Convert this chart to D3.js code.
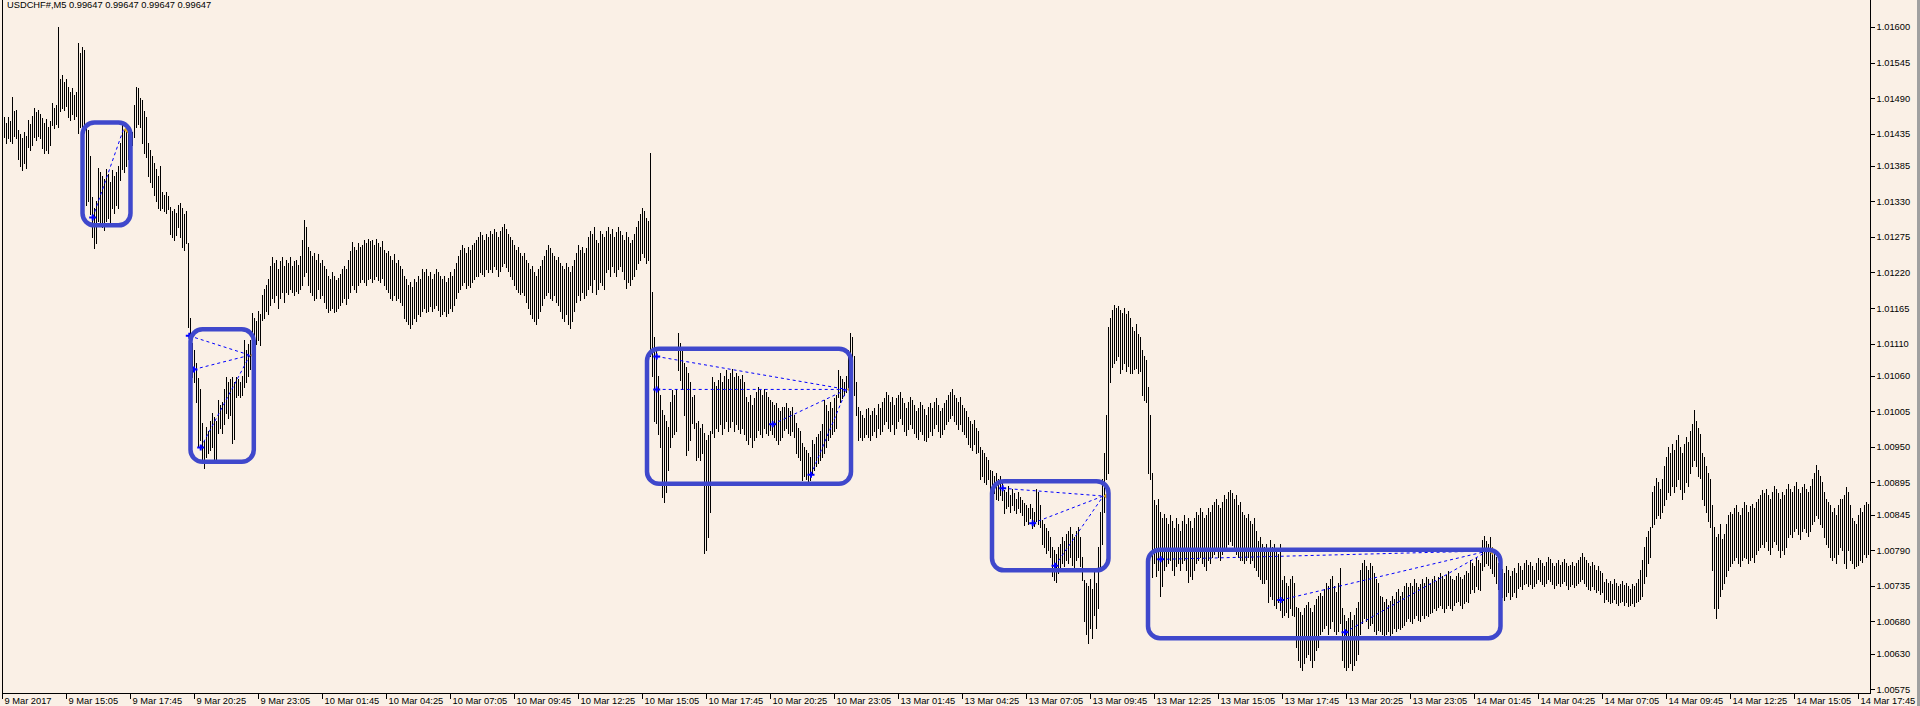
<!DOCTYPE html>
<html><head><meta charset="utf-8">
<script src="https://cdn.jsdelivr.net/npm/d3@7"></script>
<style>
html,body{margin:0;padding:0;background:#faf0e6;overflow:hidden}
svg{display:block}
text{font-family:"Liberation Sans",Arial,sans-serif;font-size:9.3px;fill:#000}
</style></head><body>
<svg id="chart" width="1920" height="706"></svg>
<script>
// ---- data (prices stored in points above 1.00000, 1 point = 0.00001) ----
const symbolTitle = "USDCHF#,M5  0.99647 0.99647 0.99647 0.99647";
const barHigh = [
1458,1461,1452,1460,1455,1492,1470,1472,1440,1435,
1428,1438,1432,1456,1450,1462,1475,1468,1472,1465,
1459,1452,1458,1445,1455,1482,1475,1480,1600,1520,
1526,1515,1520,1507,1500,1505,1495,1500,1575,1560,
1569,1565,1445,1440,1400,1337,1320,1330,1382,1375,
1370,1365,1380,1372,1360,1379,1370,1375,1385,1420,
1451,1440,1445,1440,1441,1438,1480,1507,1505,1490,
1487,1470,1460,1420,1410,1400,1389,1380,1370,1385,
1345,1340,1345,1338,1321,1315,1318,1312,1325,1328,
1320,1310,1315,1265,1150,1111,1100,1080,1057,1040,
987,960,981,975,990,1002,996,990,1023,1015,
1020,1040,1058,1050,1055,1058,1050,1058,1055,1050,
1060,1115,1100,1110,1115,1157,1150,1145,1160,1155,
1185,1195,1200,1210,1230,1244,1235,1240,1225,1238,
1244,1230,1240,1235,1244,1230,1238,1240,1232,1245,
1270,1301,1290,1260,1253,1245,1250,1240,1248,1235,
1240,1230,1225,1215,1210,1220,1215,1208,1212,1218,
1225,1230,1225,1240,1253,1267,1260,1255,1265,1260,
1262,1270,1265,1272,1268,1270,1262,1272,1265,1260,
1268,1255,1250,1253,1245,1240,1248,1235,1240,1230,
1225,1215,1210,1200,1205,1198,1210,1205,1215,1210,
1225,1220,1225,1215,1220,1210,1218,1225,1220,1215,
1210,1215,1205,1212,1220,1215,1225,1235,1245,1255,
1263,1258,1250,1260,1255,1262,1265,1270,1275,1282,
1278,1270,1280,1275,1285,1280,1288,1282,1275,1285,
1290,1295,1288,1280,1275,1270,1263,1255,1260,1250,
1245,1250,1240,1234,1225,1230,1220,1215,1225,1230,
1240,1245,1255,1263,1258,1250,1245,1240,1244,1235,
1230,1225,1235,1228,1220,1230,1240,1250,1263,1255,
1260,1250,1258,1275,1285,1280,1291,1270,1265,1285,
1280,1275,1285,1291,1280,1288,1275,1282,1290,1285,
1278,1270,1282,1275,1265,1270,1280,1290,1300,1310,
1320,1315,1305,1300,1405,1190,1120,1100,1060,1030,
1007,1000,990,981,1020,1038,1030,1040,1126,1111,
1100,1080,1074,1065,1050,1027,1030,987,990,980,
985,972,960,968,975,1058,1050,1045,1054,1064,
1050,1060,1069,1055,1064,1070,1058,1065,1060,1055,
1062,1050,1027,1020,1030,1015,1025,1035,1043,1038,
1030,1040,1035,1028,1023,1020,1015,1018,1010,1005,
1012,1012,1018,1010,1005,1012,1000,987,980,975,
956,950,945,940,935,961,955,965,970,975,
985,1023,1015,1005,1020,1010,1025,1030,1069,1060,
1055,1050,1060,1100,1126,1120,1090,1050,1012,1005,
1000,995,1008,1010,1000,1005,1010,1000,1016,1010,
1020,1025,1035,1030,1020,1028,1015,1025,1030,1035,
1025,1018,1010,1020,1028,1022,1015,1005,1010,1020,
1015,1008,1000,1012,1018,1010,1020,1026,1015,1005,
1010,1018,1022,1030,1035,1039,1030,1025,1020,1028,
1015,1010,1005,997,990,985,992,980,975,950,
945,940,935,930,914,912,905,910,900,905,
895,883,880,890,875,885,878,870,880,872,
868,863,860,855,862,855,850,885,880,860,
837,830,825,820,810,795,790,785,795,800,
811,805,815,820,826,815,810,820,826,811,
780,744,740,735,745,730,760,740,795,850,
900,941,1000,1136,1150,1162,1170,1165,1168,1162,
1158,1165,1155,1160,1150,1136,1130,1140,1125,1120,
1100,1090,1085,1043,1000,910,868,860,870,850,
840,846,840,830,845,835,825,840,830,820,
835,845,830,840,835,825,840,850,845,855,
850,840,845,855,850,860,865,870,860,855,
865,875,870,880,884,878,870,875,860,865,
850,845,840,846,835,830,840,820,805,810,
800,795,800,790,806,795,800,790,785,800,
744,750,740,735,745,750,740,702,700,695,
690,700,705,710,700,695,705,715,720,724,
720,730,740,735,745,750,735,725,740,763,
700,690,680,685,695,682,690,700,710,760,
770,775,765,759,770,765,755,745,740,720,
718,710,715,705,712,720,715,725,730,720,
725,735,740,733,740,735,745,740,733,738,
745,740,748,745,739,745,750,742,748,755,
750,745,752,758,750,745,744,750,755,748,
745,752,758,755,775,770,765,780,775,770,
806,812,805,800,810,795,790,780,770,775,
761,755,765,760,750,758,762,755,770,765,
760,770,775,768,772,765,760,770,778,775,
770,765,772,780,776,770,765,770,775,768,
772,776,770,765,768,772,766,770,775,780,
786,780,775,770,765,772,768,760,765,758,
755,741,745,740,742,738,745,740,735,738,
742,736,740,735,730,738,734,740,745,760,
775,795,810,820,826,880,890,902,895,885,
900,920,935,950,940,955,945,960,968,950,
940,955,965,958,975,985,1007,990,980,970,
941,935,920,910,900,860,826,810,815,830,
807,815,830,845,850,846,855,860,850,845,
855,865,860,850,858,862,855,865,870,875,
883,878,885,875,870,880,890,885,878,870,
880,875,885,893,885,880,890,895,885,878,
888,893,885,880,890,900,910,922,915,905,
895,880,870,865,860,850,855,845,860,870,
870,875,888,880,860,840,835,830,845,855,
850,860,865,862];
const barLow = [
1425,1430,1420,1428,1423,1420,1432,1428,1395,1385,
1379,1390,1382,1415,1410,1418,1430,1425,1432,1428,
1412,1405,1410,1405,1418,1448,1444,1450,1445,1470,
1475,1472,1478,1460,1456,1465,1458,1462,1436,1445,
1441,1450,1325,1330,1310,1275,1258,1265,1300,1295,
1290,1286,1300,1305,1295,1320,1312,1325,1320,1363,
1380,1375,1385,1395,1414,1418,1430,1445,1450,1445,
1420,1405,1399,1370,1360,1352,1340,1330,1320,1317,
1320,1315,1312,1318,1280,1275,1270,1278,1290,1275,
1260,1255,1265,1136,1115,1058,1050,1020,950,960,
930,917,934,940,945,950,925,930,972,980,
972,985,1002,995,1000,956,962,1027,1030,1027,
1030,1043,1050,1060,1070,1105,1100,1110,1115,1108,
1146,1150,1160,1155,1170,1180,1175,1185,1165,1180,
1190,1175,1190,1187,1195,1190,1185,1192,1188,1195,
1200,1215,1220,1200,1190,1185,1177,1180,1195,1180,
1185,1175,1165,1159,1162,1165,1159,1160,1165,1170,
1175,1180,1172,1180,1190,1200,1195,1190,1200,1205,
1210,1205,1200,1210,1212,1206,1210,1215,1208,1205,
1212,1200,1195,1190,1180,1177,1185,1178,1180,1175,
1170,1150,1145,1140,1134,1140,1150,1145,1155,1152,
1160,1165,1159,1160,1168,1160,1165,1170,1162,1153,
1155,1160,1153,1158,1165,1160,1170,1180,1190,1195,
1200,1205,1196,1200,1198,1205,1210,1215,1215,1220,
1218,1215,1225,1220,1225,1220,1230,1225,1215,1222,
1230,1235,1228,1222,1215,1210,1200,1195,1190,1187,
1190,1185,1175,1165,1155,1150,1145,1140,1150,1160,
1170,1180,1185,1190,1180,1177,1185,1175,1170,1160,
1150,1145,1155,1140,1134,1145,1160,1175,1185,1177,
1190,1180,1185,1195,1200,1190,1210,1187,1195,1205,
1200,1195,1220,1225,1215,1230,1220,1215,1225,1230,
1222,1210,1196,1205,1200,1210,1215,1225,1235,1240,
1250,1244,1234,1240,1090,1060,990,987,970,950,
872,865,880,914,950,965,970,975,1069,1054,
1040,1000,938,945,960,987,980,930,935,930,
940,786,790,810,850,972,965,980,975,985,
970,980,990,975,981,990,975,985,978,972,
980,970,961,955,965,950,960,965,976,970,
965,980,972,968,976,970,965,961,955,960,
965,976,980,972,968,975,965,941,935,930,
899,905,900,895,899,910,915,920,925,930,
935,941,950,960,965,970,975,980,1027,1020,
1025,1030,1035,1040,1043,1050,1030,1000,961,965,
960,965,970,965,961,968,975,965,980,970,
975,985,990,980,975,985,970,980,990,995,
985,975,969,978,985,980,972,965,962,975,
970,960,959,965,975,968,980,985,975,965,
970,978,985,990,995,1000,990,985,978,985,
975,970,965,955,950,945,955,940,942,900,
905,895,893,900,880,885,878,870,868,875,
868,848,855,858,850,860,852,848,855,850,
845,829,835,830,840,824,828,835,830,826,
800,795,786,790,780,750,744,741,755,760,
770,765,775,770,780,768,760,775,780,765,
744,680,660,646,670,655,690,670,700,760,
800,850,900,910,1050,1074,1080,1085,1090,1064,
1070,1080,1068,1075,1064,1064,1070,1072,1064,1068,
1030,1023,1020,910,900,749,770,750,760,720,
735,760,765,770,775,760,751,765,770,760,
770,775,760,741,750,745,760,770,775,780,
770,765,760,775,770,780,785,790,780,775,
785,790,795,800,805,798,790,785,780,775,
775,770,775,780,770,775,764,760,750,745,
740,739,745,710,720,715,705,700,710,698,
687,690,695,687,700,690,688,640,620,610,
605,615,625,630,620,610,620,635,640,660,
665,670,675,660,670,680,665,660,665,677,
620,610,605,610,615,605,612,620,630,660,
677,685,680,670,675,678,665,660,667,665,
660,656,660,665,658,662,670,665,670,668,
672,675,680,685,680,677,685,690,682,680,
690,685,690,688,693,695,700,698,702,705,
700,695,700,705,700,698,705,710,712,705,
700,708,712,710,724,730,725,735,730,728,
760,765,770,768,762,755,750,740,730,720,
718,713,720,725,715,720,725,718,732,735,
730,738,740,735,738,732,735,740,745,742,
738,735,740,745,742,738,732,736,740,735,
740,742,736,730,735,738,733,737,740,742,
745,740,735,730,728,735,730,725,728,722,
725,710,715,712,708,710,715,708,706,710,
712,706,710,704,705,708,704,710,712,715,
720,740,750,770,780,826,830,840,845,840,
850,860,870,880,875,890,880,890,900,885,
870,880,895,890,910,920,930,920,905,902,
870,860,850,835,826,760,700,685,700,720,
730,740,750,760,765,770,775,780,770,765,
775,780,778,770,775,780,772,785,790,795,
800,795,805,790,785,795,805,800,790,780,
790,785,795,810,815,810,820,825,815,808,
820,825,818,812,820,830,835,845,840,830,
826,810,800,795,780,775,780,770,785,795,
790,770,763,790,775,770,763,765,768,775,
772,785,780,785];
const priceTicks = [1.01600,1.01545,1.01490,1.01435,1.01385,1.01330,1.01275,1.01220,1.01165,1.01110,
  1.01060,1.01005,1.00950,1.00895,1.00845,1.00790,1.00735,1.00680,1.00630,1.00575];
const timeTickIndex = [0,32,64,96,128,160,192,224,256,288,320,352,384,416,448,480,512,544,576,608,
  640,672,704,736,768,800,832,864,896,928];
const timeTickLabels = ["9 Mar 2017","9 Mar 15:05","9 Mar 17:45","9 Mar 20:25","9 Mar 23:05",
  "10 Mar 01:45","10 Mar 04:25","10 Mar 07:05","10 Mar 09:45","10 Mar 12:25","10 Mar 15:05",
  "10 Mar 17:45","10 Mar 20:25","10 Mar 23:05","13 Mar 01:45","13 Mar 04:25","13 Mar 07:05",
  "13 Mar 09:45","13 Mar 12:25","13 Mar 15:05","13 Mar 17:45","13 Mar 20:25","13 Mar 23:05",
  "14 Mar 01:45","14 Mar 04:25","14 Mar 07:05","14 Mar 09:45","14 Mar 12:25","14 Mar 15:05","14 Mar 17:45"];
// highlight boxes: [bar index from, bar index to, low point, high point]
const boxes = [[40.25,64.25,1293,1452],[94.25,125.9,927,1132],[322.5,424.5,893,1102],
  [495,553.25,759,897],[573,749.25,654,791]];
// dotted trade lines: [start bar, start point, end bar, end point]
const tradeLines = [
  [45.35,1305,60.65,1441],
  [93.65,1122,124,1092],[96,1070,124,1092],[99.35,949,124,1092],
  [327.35,1090,422.35,1039],[327.35,1039,422.35,1039],[385.35,985,422.35,1039],[404.5,907,422.35,1039],
  [500.35,886,550.65,874],[515.35,832,550.65,874],[526.5,766,550.65,874],
  [579.35,776,743,789],[639.35,713,743,789],[671.5,663,743,789]];

// ---- drawing ----
const toPrice = p => 1 + p / 100000;
const n = Math.min(barHigh.length, barLow.length);
const svg = d3.select("#chart");
const x = d3.scaleLinear().domain([0, 933]).range([2, 1868]);
const y = d3.scaleLinear().domain([1.00575, 1.01600]).range([689.2, 27]);
const axisX = 1870, axisY = 693;

svg.append("rect").attr("width",1920).attr("height",706).attr("fill","#faf0e6");

// bars
const bars = d3.range(n).map(i => ({i, h: toPrice(barHigh[i]), l: toPrice(barLow[i])}));
svg.append("g").attr("shape-rendering","crispEdges")
  .selectAll("line").data(bars).join("line")
  .attr("x1", d => Math.round(x(d.i)) + 0.5).attr("x2", d => Math.round(x(d.i)) + 0.5)
  .attr("y1", d => Math.round(y(d.h))).attr("y2", d => Math.round(y(d.l)) + 1)
  .attr("stroke", "#000").attr("stroke-width", 1);

// trade lines
const tl = svg.append("g");
tl.selectAll("line").data(tradeLines).join("line")
  .attr("x1", d => x(d[0])).attr("y1", d => y(toPrice(d[1])))
  .attr("x2", d => x(d[2])).attr("y2", d => y(toPrice(d[3])))
  .attr("stroke", "#0000ff").attr("stroke-width", 1).attr("stroke-dasharray", "3,3");
// start markers
tl.selectAll("path.st").data(tradeLines).join("path").attr("class","st")
  .attr("transform", d => `translate(${x(d[0])},${y(toPrice(d[1]))})`)
  .attr("d", "M-3.5,0H3.5M0,-3V3").attr("stroke", "#0000ff").attr("stroke-width", 2).attr("fill","none");
// end markers
const ends = Array.from(new Map(tradeLines.map(d => [d[2] + "_" + d[3], d])).values());
tl.selectAll("path.en").data(ends).join("path").attr("class","en")
  .attr("transform", d => `translate(${x(d[2])},${y(toPrice(d[3]))})`)
  .attr("d", "M0,0L5,-4L5,4Z").attr("fill", "#daa520");

// boxes
svg.append("g").selectAll("rect").data(boxes).join("rect")
  .attr("x", d => x(d[0])).attr("y", d => y(toPrice(d[3])))
  .attr("width", d => x(d[1]) - x(d[0])).attr("height", d => y(toPrice(d[2])) - y(toPrice(d[3])))
  .attr("rx", 12).attr("ry", 12)
  .attr("fill", "none").attr("stroke", "#3f48cc").attr("stroke-width", 4.5);

// frame lines
const frame = svg.append("g").attr("shape-rendering","crispEdges").attr("stroke","#000");
frame.append("line").attr("x1",2.5).attr("x2",2.5).attr("y1",0).attr("y2",axisY+0.5);
frame.append("line").attr("x1",axisX+0.5).attr("x2",axisX+0.5).attr("y1",0).attr("y2",axisY+0.5);
frame.append("line").attr("x1",2).attr("x2",axisX+1).attr("y1",axisY+0.5).attr("y2",axisY+0.5);
svg.append("rect").attr("x",1917).attr("y",0).attr("width",3).attr("height",706).attr("fill","#a0a0a0");

// price axis
const ya = svg.append("g").attr("transform", `translate(${axisX + 0.5},0)`)
  .call(d3.axisRight(y).tickValues(priceTicks).tickFormat(d3.format(".5f")).tickSize(4).tickPadding(2));
ya.select(".domain").remove();
ya.selectAll(".tick line").attr("stroke","#000").attr("shape-rendering","crispEdges");
ya.selectAll(".tick text").attr("font-family","Liberation Sans, Arial, sans-serif").attr("font-size","9.3px").attr("fill","#000");

// time axis
const xa = svg.append("g").attr("transform", `translate(0,${axisY + 0.5})`)
  .call(d3.axisBottom(x).tickValues(timeTickIndex).tickFormat((d, k) => timeTickLabels[k]).tickSize(5));
xa.select(".domain").remove();
xa.selectAll(".tick").attr("transform", d => `translate(${Math.round(x(d)) + 0.5},0)`);
xa.selectAll(".tick line").attr("stroke","#000").attr("shape-rendering","crispEdges");
xa.selectAll(".tick text").attr("text-anchor","start").attr("x",2).attr("y",10.5).attr("dy",0)
  .attr("font-family","Liberation Sans, Arial, sans-serif").attr("font-size","9.3px").attr("fill","#000");

// title
svg.append("text").attr("x",7).attr("y",8).text(symbolTitle);
</script>
</body></html>
